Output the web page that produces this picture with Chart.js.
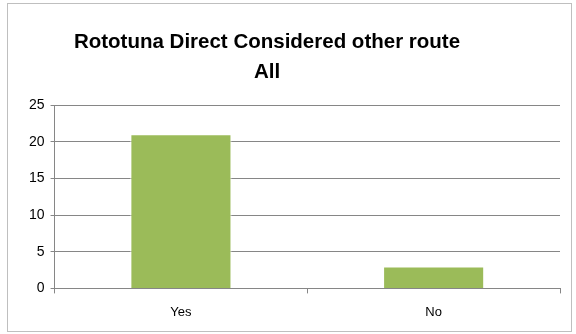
<!DOCTYPE html>
<html>
<head>
<meta charset="utf-8">
<script src="https://cdn.jsdelivr.net/npm/chart.js@4/dist/chart.umd.min.js"></script>
<style>
  html, body { margin: 0; padding: 0; background: #fff; }
  #wrap { position: relative; width: 576px; height: 334px; }
  #frame { position: absolute; left: 7px; top: 3px; width: 565px; height: 329px; border: 1px solid #bfbfbf; box-sizing: border-box; pointer-events: none; }
  canvas { position: absolute; left: 0; top: 0; }
</style>
</head>
<body>
<div id="wrap">
  <canvas id="chart" width="576" height="334"></canvas>
  <div id="frame"></div>
</div>
<script>
const categories = ["Yes", "No"];
const counts = [21, 3];
const yTicks = [0, 5, 10, 15, 20, 25];
const titleLines = ["Rototuna Direct Considered other route", "All"];

// title sits a bit left of centre in the original, so draw it by hand
const titlePlugin = {
  id: "offsetTitle",
  afterDraw(chart) {
    const c = chart.ctx;
    c.save();
    c.fillStyle = "#000";
    c.font = "bold 20.5px 'Liberation Sans'";
    c.textAlign = "center";
    c.textBaseline = "middle";
    c.fillText(titleLines[0], 267, 42);
    c.fillText(titleLines[1], 267, 72);
    c.restore();
  },
};

const ctx = document.getElementById("chart").getContext("2d");
new Chart(ctx, {
  type: "bar",
  data: {
    labels: categories,
    datasets: [
      {
        label: "All",
        data: counts,
        backgroundColor: "#9bbb59",
        borderColor: "#ffffff",
        borderWidth: 1,
        barPercentage: 0.8,
        categoryPercentage: 0.5,
      },
    ],
  },
  plugins: [titlePlugin],
  options: {
    responsive: false,
    animation: false,
    layout: { padding: { left: 23, right: 16, top: 105, bottom: 3 } },
    plugins: {
      legend: { display: false },
      tooltip: { enabled: false },
      title: { display: false },
    },
    scales: {
      x: {
        offset: true,
        grid: { display: true, drawOnChartArea: false, drawTicks: true, tickLength: 5, color: "#868686", offset: true },
        border: { color: "#868686", width: 1 },
        ticks: { color: "#000", font: { family: "Liberation Sans", size: 13 }, padding: 11 },
      },
      y: {
        min: 0,
        max: 25,
        afterBuildTicks: (axis) => { axis.ticks = yTicks.map((v) => ({ value: v })); },
        grid: { color: "#868686", tickLength: 4 },
        border: { color: "#868686", width: 1 },
        ticks: { color: "#000", font: { family: "Liberation Sans", size: 14 }, padding: 6 },
      },
    },
  },
});
</script>
</body>
</html>
